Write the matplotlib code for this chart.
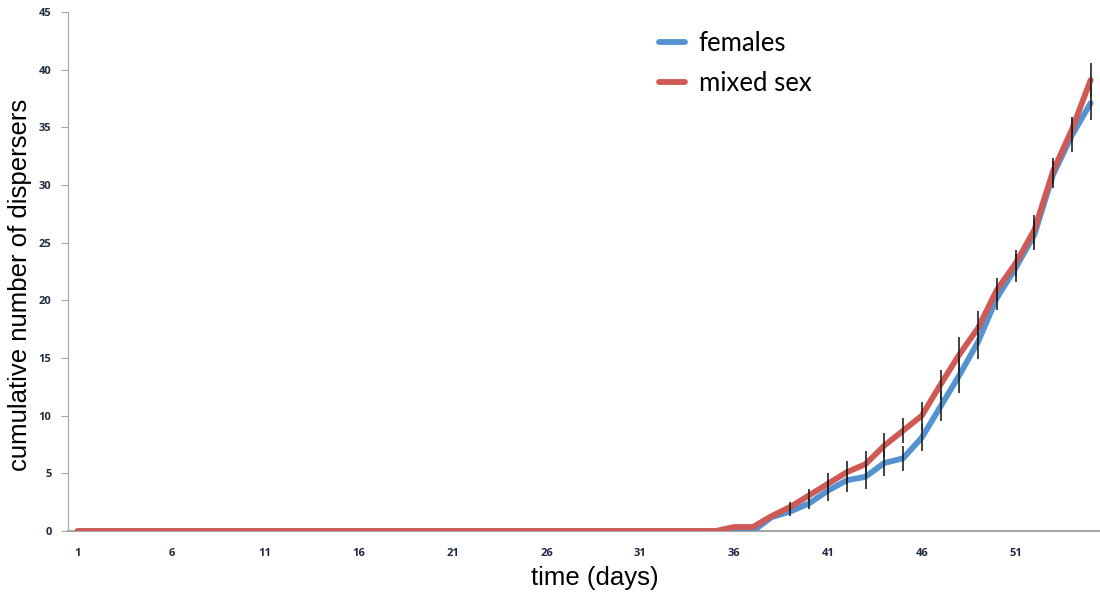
import numpy as np
import matplotlib.pyplot as plt

# cumulative dispersers per day (days 1..55)
days = np.arange(1, 56)
females = [0.0] * 37 + [1.2, 1.7, 2.4, 3.5, 4.4, 4.7, 5.9, 6.3, 8.1, 10.8, 13.5,
                        16.4, 20.2, 22.8, 25.7, 30.9, 34.3, 37.1]
mixed = [0.0] * 35 + [0.35, 0.35, 1.3, 2.1, 3.1, 4.1, 5.1, 5.8, 7.4, 8.7, 10.0,
                      12.7, 15.3, 17.6, 20.9, 23.2, 26.1, 31.2, 34.8, 39.1]

# standard errors, shown from day 39 onward
err_days = np.arange(39, 56)
females_err = [0.4, 0.5, 0.9, 1.0, 1.1, 1.1, 1.1, 1.2, 1.3, 1.5, 1.5, 1.0,
               1.2, 1.3, 1.2, 1.4, 1.5]
mixed_err = [0.4, 0.5, 0.9, 1.0, 1.1, 1.1, 1.1, 1.2, 1.3, 1.5, 1.5, 1.0,
             1.2, 1.3, 1.1, 1.1, 1.5]

xtick_days = [1, 6, 11, 16, 21, 26, 31, 36, 41, 46, 51]

blue = '#5592D0'
red = '#CF5A55'
tick_color = '#1E2A40'

fig = plt.figure(figsize=(11, 5.98), dpi=100)
ax = fig.add_axes([0.062, 0.112, 0.938, 0.868])

ax.plot(days, females, color=blue, lw=4.2, solid_capstyle='round', label='females', zorder=3)
ax.plot(days, mixed, color=red, lw=4.2, solid_capstyle='round', label='mixed sex', zorder=3)

fi = err_days - 1
ax.errorbar(err_days, np.array(females)[fi], yerr=females_err, fmt='none',
            ecolor='#222222', elinewidth=1.2, capsize=0, zorder=4)
ax.errorbar(err_days, np.array(mixed)[fi], yerr=mixed_err, fmt='none',
            ecolor='#222222', elinewidth=1.2, capsize=0, zorder=4)

ax.set_xlim(0.5, 55.5)
ax.set_ylim(0, 45)
ax.set_yticks(np.arange(0, 46, 5))
ax.set_xticks(xtick_days)

for s in ['top', 'right']:
    ax.spines[s].set_visible(False)
ax.spines['left'].set_color('#A6A6A6')
ax.spines['bottom'].set_color('#A6A6A6')
ax.spines['bottom'].set_linewidth(1.5)

ax.tick_params(axis='y', direction='out', length=5, color='#A6A6A6', pad=7,
               labelsize=8, labelcolor=tick_color)
ax.tick_params(axis='x', length=0, pad=12, labelsize=8, labelcolor=tick_color)
for lab in ax.get_xticklabels() + ax.get_yticklabels():
    lab.set_fontweight('bold')
    lab.set_family('Open Sans')

ax.set_xlabel('time (days)', fontsize=18.5, family='Liberation Sans')
ax.set_ylabel('cumulative number of dispersers', fontsize=18.5, family='Liberation Sans')
ax.xaxis.set_label_coords(0.51, -0.068, transform=ax.transAxes)
ax.yaxis.set_label_coords(-0.035, 0.475, transform=ax.transAxes)
ax.xaxis.label.set_va('top')

leg = ax.legend(loc='upper left', bbox_to_anchor=(0.55, 1.008), frameon=False,
                prop={'family': 'Lato', 'size': 18.5}, handlelength=1.0,
                handletextpad=0.55, labelspacing=0.6)

fig.savefig('out.png', dpi=100)
